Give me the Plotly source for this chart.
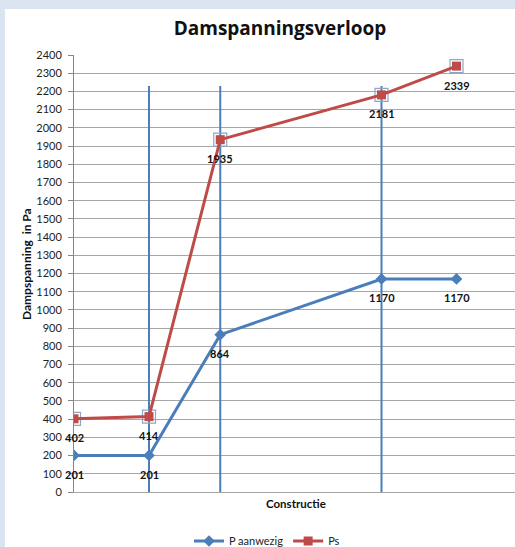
import plotly.graph_objects as go

# Vapour pressure through a wall construction (positions in cm from inner face)
positions = [0, 10, 19.5, 41, 51]
p_aanwezig = [201, 201, 864, 1170, 1170]
ps = [402, 414, 1935, 2181, 2339]
layer_bounds = [10, 19.5, 41]
bound_top = 2230
x_max = 58.8
y_ticks = list(range(0, 2401, 100))

BLUE = "#4a7ebb"
RED = "#be4b48"
FONT = "Lato"

W, H = 515, 547
L, R, T, B = 74, 0, 55, 55
pw, ph = W - L - R, H - T - B


def px_x(px):
    return (px - L) / pw


def px_y(py):
    return (H - B - py) / ph


fig = go.Figure()

# layer boundaries
bx, by = [], []
for b in layer_bounds:
    bx += [b, b, None]
    by += [0, bound_top, None]
fig.add_trace(go.Scatter(x=bx, y=by, mode="lines", line=dict(color=BLUE, width=2),
                         showlegend=False, hoverinfo="skip"))

fig.add_trace(go.Scatter(x=positions, y=p_aanwezig, mode="lines+markers", name="P aanwezig",
                         line=dict(color=BLUE, width=3),
                         marker=dict(symbol="diamond", size=9, color=BLUE)))

# selection frame around the Ps points
fig.add_trace(go.Scatter(x=positions, y=ps, mode="markers", showlegend=False, hoverinfo="skip",
                         marker=dict(symbol="square-open", size=13, color="#8ea6c6",
                                     line=dict(width=1.2))))
fig.add_trace(go.Scatter(x=positions, y=ps, mode="lines+markers", name="Ps",
                         line=dict(color=RED, width=3),
                         marker=dict(symbol="square", size=9, color=RED)))

for xs, ys in ((positions, p_aanwezig), (positions, ps)):
    for x, y in zip(xs, ys):
        fig.add_annotation(x=x, y=y, text=f"<b>{y}</b>", showarrow=False, yshift=-19,
                           xanchor="center", yanchor="middle",
                           font=dict(family=FONT, size=11, color="#111"))

# axis titles
fig.add_annotation(xref="paper", yref="paper", x=px_x(26), y=px_y(264), text="<b>Dampspanning  in Pa</b>",
                   textangle=-90, showarrow=False, xanchor="center", yanchor="middle",
                   font=dict(family=FONT, size=12, color="#111"))
fig.add_annotation(xref="paper", yref="paper", x=px_x(296), y=px_y(503), text="<b>Constructie</b>",
                   showarrow=False, xanchor="center", yanchor="middle",
                   font=dict(family=FONT, size=11.5, color="#111"))

# light frame around the chart area
frame = "#dbe5f1"
fig.add_shape(type="rect", xref="paper", yref="paper", x0=px_x(0), x1=px_x(5), y0=px_y(H), y1=px_y(0),
              fillcolor=frame, line_width=0, layer="below")
fig.add_shape(type="rect", xref="paper", yref="paper", x0=px_x(0), x1=px_x(W), y0=px_y(9), y1=px_y(0),
              fillcolor=frame, line_width=0, layer="below")

fig.update_layout(
    width=W, height=H,
    margin=dict(l=L, r=R, t=T, b=B, autoexpand=False),
    paper_bgcolor="white", plot_bgcolor="white",
    title=dict(text="<b>Damspanningsverloop</b>", xref="container", yref="container",
               x=280 / W, y=1 - 28 / H, xanchor="center", yanchor="middle",
               font=dict(family="Open Sans", size=19, color="#111")),
    legend=dict(orientation="h", x=px_x(267), y=px_y(541), xanchor="center", yanchor="middle",
                font=dict(family=FONT, size=11, color="#222"), itemwidth=30),
    showlegend=True,
    xaxis=dict(range=[0, x_max], showgrid=False, zeroline=False, showticklabels=False,
               ticks="", showline=True, linecolor="#a6a6a6", linewidth=1, fixedrange=True),
    yaxis=dict(range=[0, 2400], tickvals=y_ticks, showgrid=True, gridcolor="#a6a6a6", gridwidth=1,
               zeroline=False, showline=True, linecolor="#868686", linewidth=1,
               ticks="outside", ticklen=5, tickcolor="#868686", ticklabelstandoff=4,
               tickfont=dict(family=FONT, size=11, color="#222"), fixedrange=True),
)

fig.write_html("out.html")
